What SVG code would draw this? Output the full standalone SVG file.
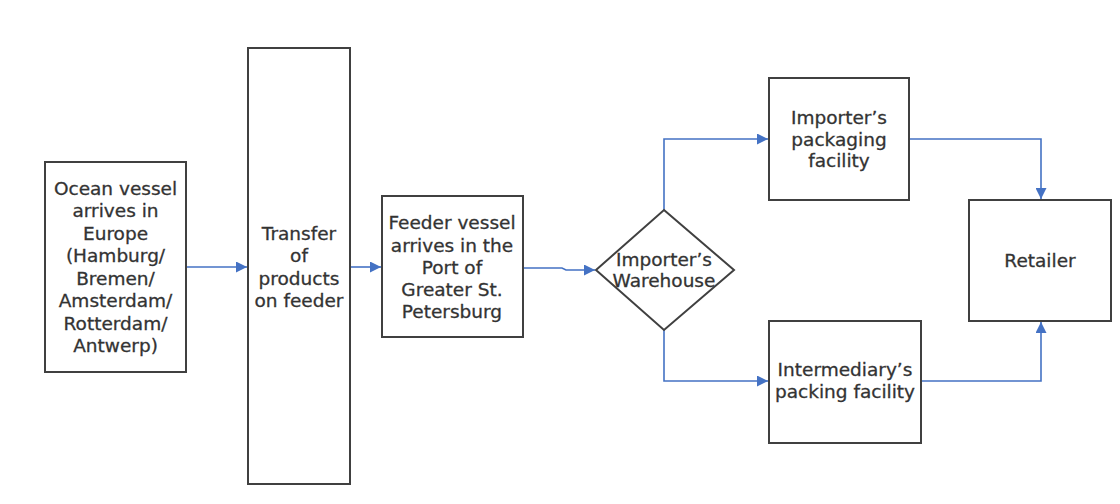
<svg xmlns="http://www.w3.org/2000/svg" width="1120" height="504" viewBox="0 0 1120 504">
<style>
.box{fill:#fff;stroke:#404040;stroke-width:2}
.t{font-family:"DejaVu Sans",Verdana,sans-serif;font-size:18.5px;fill:#333;stroke:#333;stroke-width:0.3;text-anchor:middle}
.c{fill:none;stroke:#4472C4;stroke-width:1.6;marker-end:url(#ah)}
</style>
<defs>
<marker id="ah" viewBox="0 0 10 10" refX="10" refY="5" markerWidth="11" markerHeight="11" markerUnits="userSpaceOnUse" orient="auto">
<path d="M0,0 L10,5 L0,10 z" fill="#4472C4"/>
</marker>
</defs>
<rect width="1120" height="504" fill="#fff"/>
<g id="connectors">
<path class="c" d="M186,267 H247"/>
<path class="c" d="M351,267 H381"/>
<path class="c" d="M523,268 H562 L566,270 H595"/>
<path class="c" d="M664,210 V139 H768"/>
<path class="c" d="M664,330 V381 H768"/>
<path class="c" d="M909,139 H1041 V199"/>
<path class="c" d="M921,381 H1041 V322"/>
</g>
<g id="ocean">
<rect class="box" x="45" y="162" width="141" height="210"/>
<text class="t"><tspan x="115.5" y="194.5">Ocean vessel</tspan><tspan x="115.5" y="217">arrives in</tspan><tspan x="115.5" y="239.5">Europe</tspan><tspan x="115.5" y="262">(Hamburg/</tspan><tspan x="115.5" y="284.5">Bremen/</tspan><tspan x="115.5" y="307">Amsterdam/</tspan><tspan x="115.5" y="329.5">Rotterdam/</tspan><tspan x="115.5" y="352">Antwerp)</tspan></text>
</g>
<g id="transfer">
<rect class="box" x="248" y="48" width="102" height="436"/>
<text class="t"><tspan x="299" y="239.5">Transfer</tspan><tspan x="299" y="261.5">of</tspan><tspan x="299" y="284.5">products</tspan><tspan x="299" y="306.5">on feeder</tspan></text>
</g>
<g id="feeder">
<rect class="box" x="382" y="196" width="141" height="141"/>
<text class="t"><tspan x="452" y="229">Feeder vessel</tspan><tspan x="452" y="251.5">arrives in the</tspan><tspan x="452" y="273.5">Port of</tspan><tspan x="452" y="296">Greater St.</tspan><tspan x="452" y="318">Petersburg</tspan></text>
</g>
<g id="warehouse">
<path class="box" d="M664,210 L734,270 L664,330 L596,270 Z"/>
<text class="t"><tspan x="664" y="265.5">Importer’s</tspan><tspan x="664" y="287">Warehouse</tspan></text>
</g>
<g id="packaging">
<rect class="box" x="769" y="78" width="140" height="122"/>
<text class="t"><tspan x="839" y="123.5">Importer’s</tspan><tspan x="839" y="146">packaging</tspan><tspan x="839" y="166.5">facility</tspan></text>
</g>
<g id="retailer">
<rect class="box" x="969" y="200" width="142" height="121"/>
<text class="t" x="1040" y="266.5">Retailer</text>
</g>
<g id="intermediary">
<rect class="box" x="769" y="321" width="152" height="122"/>
<text class="t"><tspan x="845" y="375.5">Intermediary’s</tspan><tspan x="845" y="398">packing facility</tspan></text>
</g>
</svg>
